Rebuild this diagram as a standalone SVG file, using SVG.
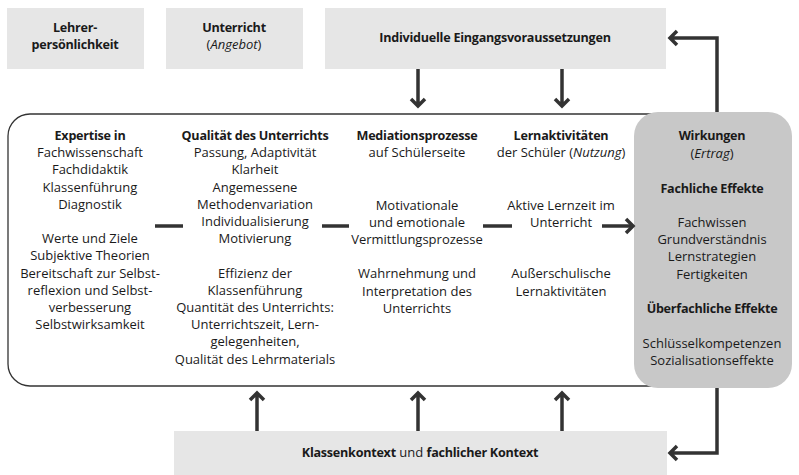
<svg xmlns="http://www.w3.org/2000/svg" width="799" height="475" viewBox="0 0 799 475">
<style>
text{font-family:"Open Sans","Noto Sans",sans-serif;font-size:13px;fill:#1a1a1a;text-anchor:middle}
.b{font-weight:bold;font-size:12.6px;letter-spacing:-0.25px}
.i{font-style:italic}
.gbox{fill:#e6e6e6}
.conn{stroke:#333;stroke-width:3.5;fill:none;stroke-linejoin:miter}
</style>
<rect width="799" height="475" fill="#fff"/>
<g id="lehrer">
<rect class="gbox" x="7" y="8" width="137" height="61"/>
<text class="b" x="75" y="32">Lehrer-</text>
<text class="b" x="75" y="49">persönlichkeit</text>
</g>
<g id="unterricht">
<rect class="gbox" x="166" y="8" width="137" height="61"/>
<text class="b" x="234" y="32">Unterricht</text>
<text x="234" y="49">(<tspan class="i">Angebot</tspan>)</text>
</g>
<g id="eingang">
<rect class="gbox" x="325" y="8" width="341" height="61"/>
<text class="b" x="495" y="42">Individuelle Eingangsvoraussetzungen</text>
</g>
<g id="main">
<rect x="8" y="114" width="700" height="272" rx="22" fill="#fff" stroke="#333" stroke-width="1.3"/>
</g>
<g id="expertise">
<text class="b" x="90" y="140">Expertise in</text>
<text x="90" y="157.2">Fachwissenschaft</text>
<text x="90" y="174.4">Fachdidaktik</text>
<text x="90" y="191.6">Klassenführung</text>
<text x="90" y="208.8">Diagnostik</text>
<text x="90" y="243.2">Werte und Ziele</text>
<text x="90" y="260.4">Subjektive Theorien</text>
<text x="90" y="277.6">Bereitschaft zur Selbst-</text>
<text x="90" y="294.8">reflexion und Selbst-</text>
<text x="90" y="312">verbesserung</text>
<text x="90" y="329.2">Selbstwirksamkeit</text>
</g>
<g id="qualitaet">
<text class="b" x="255" y="140">Qualität des Unterrichts</text>
<text x="255" y="157.2">Passung, Adaptivität</text>
<text x="255" y="174.4">Klarheit</text>
<text x="255" y="191.6">Angemessene</text>
<text x="255" y="208.8">Methodenvariation</text>
<text x="255" y="226">Individualisierung</text>
<text x="255" y="243.2">Motivierung</text>
<text x="255" y="277.6">Effizienz der</text>
<text x="255" y="294.8">Klassenführung</text>
<text x="255" y="312">Quantität des Unterrichts:</text>
<text x="255" y="329.2">Unterrichtszeit, Lern-</text>
<text x="255" y="346.4">gelegenheiten,</text>
<text x="255" y="363.6">Qualität des Lehrmaterials</text>
</g>
<g id="mediation">
<text class="b" x="417" y="140">Mediationsprozesse</text>
<text x="417" y="157.2">auf Schülerseite</text>
<text x="417" y="209.5">Motivationale</text>
<text x="417" y="226.7">und emotionale</text>
<text x="417" y="243.9">Vermittlungsprozesse</text>
<text x="417" y="278.3">Wahrnehmung und</text>
<text x="417" y="295.5">Interpretation des</text>
<text x="417" y="312.7">Unterrichts</text>
</g>
<g id="lernaktivitaeten">
<text class="b" x="561" y="140">Lernaktivitäten</text>
<text x="561" y="157.2">der Schüler (<tspan class="i">Nutzung</tspan>)</text>
<text x="561" y="209.5">Aktive Lernzeit im</text>
<text x="561" y="226.7">Unterricht</text>
<text x="561" y="278.3">Außerschulische</text>
<text x="561" y="295.5">Lernaktivitäten</text>
</g>
<g id="wirkungen">
<rect x="634" y="112" width="158" height="276" rx="24" fill="#c8c8c8"/>
<text class="b" x="712" y="140">Wirkungen</text>
<text x="712" y="158"><tspan>(</tspan><tspan class="i">Ertrag</tspan><tspan>)</tspan></text>
<text class="b" x="712" y="192.5">Fachliche Effekte</text>
<text x="712" y="227">Fachwissen</text>
<text x="712" y="244.2">Grundverständnis</text>
<text x="712" y="261.4">Lernstrategien</text>
<text x="712" y="278.6">Fertigkeiten</text>
<text class="b" x="712" y="313">Überfachliche Effekte</text>
<text x="712" y="348">Schlüsselkompetenzen</text>
<text x="712" y="365.2">Sozialisationseffekte</text>
</g>
<g id="kontext">
<rect class="gbox" x="174" y="431" width="493" height="44"/>
<text x="420" y="457"><tspan class="b">Klassenkontext</tspan> und <tspan class="b">fachlicher Kontext</tspan></text>
</g>
<g id="connectors">
<path class="conn" d="M155 226H183M322 226H349M483 226H512M602 226H633"/>
<path class="conn" d="M626 219L633 226L626 233"/>
<path class="conn" d="M418 69V106M411 99L418 106L425 99"/>
<path class="conn" d="M562 69V106M555 99L562 106L569 99"/>
<path class="conn" d="M257 431V393M250 400L257 393L264 400"/>
<path class="conn" d="M418 431V393M411 400L418 393L425 400"/>
<path class="conn" d="M562 431V393M555 400L562 393L569 400"/>
<path class="conn" d="M717 112V38H670M677 31L670 38L677 45"/>
<path class="conn" d="M717 388V453H670M677 446L670 453L677 460"/>
</g>
</svg>
